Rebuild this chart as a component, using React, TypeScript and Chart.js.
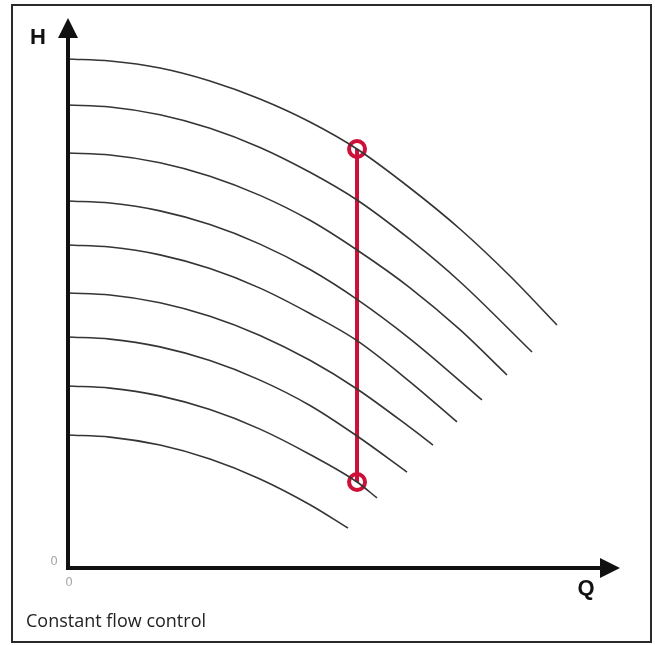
import { useEffect, useRef } from "react";
import { Chart, registerables } from "chart.js";

Chart.register(...registerables);

// Pump curves at nine speeds (Q = flow, H = head)
const curveNames = ["n1", "n2", "n3", "n4", "n5", "n6", "n7", "n8", "n9"];
const curveQ: number[][] = [
  [0, 7.61, 16.67, 25.72, 34.78, 43.84, 52.36, 61.96, 71.01, 80.07, 88.59],
  [0, 7.61, 16.67, 25.72, 34.78, 43.84, 52.36, 61.96, 71.01, 84.06],
  [0, 7.61, 16.67, 25.72, 34.78, 43.84, 52.36, 61.96, 71.01, 79.53],
  [0, 7.61, 16.67, 25.72, 34.78, 43.84, 52.36, 61.96, 75.0],
  [0, 7.61, 16.67, 25.72, 34.78, 43.84, 52.36, 61.96, 70.47],
  [0, 7.61, 16.67, 25.72, 34.78, 43.84, 52.36, 61.96, 66.12],
  [0, 7.61, 16.67, 25.72, 34.78, 43.84, 52.36, 61.41],
  [0, 7.61, 16.67, 25.72, 34.78, 43.84, 52.36, 55.98],
  [0, 7.61, 16.67, 25.72, 34.78, 43.84, 50.72],
];
const curveH: number[][] = [
  [92.55, 92.18, 90.91, 88.55, 85.27, 81.09, 76.18, 69.09, 61.64, 53.09, 44.18],
  [84.18, 83.82, 82.42, 79.96, 76.47, 71.95, 66.91, 59.73, 52.05, 39.27],
  [75.45, 75.09, 73.69, 71.24, 67.75, 63.22, 57.82, 50.95, 43.33, 35.09],
  [66.73, 66.35, 64.93, 62.44, 58.89, 54.27, 48.85, 41.67, 30.55],
  [58.73, 58.35, 56.93, 54.44, 50.89, 46.27, 41.33, 33.85, 26.55],
  [50.0, 49.64, 48.24, 45.78, 42.29, 37.76, 32.55, 25.55, 22.36],
  [42.0, 41.62, 40.2, 37.71, 34.16, 29.55, 24.0, 17.45],
  [33.09, 32.71, 31.29, 28.8, 25.25, 20.64, 15.64, 12.73],
  [24.18, 23.8, 22.35, 19.82, 16.2, 11.51, 7.27],
];

// Constant flow control line
const dutyQ = 52.36;
const dutyH = [76.18, 15.64];

const axisLabelY = "H";
const axisLabelX = "Q";
const originLabel = "0";
const caption = "Constant flow control";

const decorPlugin = {
  id: "decor",
  beforeDraw(chart: any) {
    const ctx = chart.ctx;
    ctx.save();
    ctx.fillStyle = "#ffffff";
    ctx.fillRect(0, 0, chart.width, chart.height);
    ctx.strokeStyle = "#2a2a2a";
    ctx.lineWidth = 2;
    ctx.strokeRect(12, 5, 639, 637);
    ctx.restore();
  },
  afterDatasetsDraw(chart: any) {
    const ctx = chart.ctx;
    const { left, right, top, bottom } = chart.chartArea;
    ctx.save();
    ctx.strokeStyle = "#111";
    ctx.fillStyle = "#111";
    ctx.lineWidth = 4;
    ctx.lineCap = "butt";
    // y axis
    ctx.beginPath();
    ctx.moveTo(left, bottom + 2);
    ctx.lineTo(left, top + 16);
    ctx.stroke();
    ctx.beginPath();
    ctx.moveTo(left, top);
    ctx.lineTo(left - 10, top + 20);
    ctx.lineTo(left + 10, top + 20);
    ctx.closePath();
    ctx.fill();
    // x axis
    ctx.beginPath();
    ctx.moveTo(left - 2, bottom);
    ctx.lineTo(right - 16, bottom);
    ctx.stroke();
    ctx.beginPath();
    ctx.moveTo(right, bottom);
    ctx.lineTo(right - 20, bottom - 10);
    ctx.lineTo(right - 20, bottom + 10);
    ctx.closePath();
    ctx.fill();
    // labels
    ctx.font = "bold 22px 'Liberation Sans', Arial, sans-serif";
    ctx.textAlign = "center";
    ctx.textBaseline = "middle";
    ctx.fillText(axisLabelY, left - 30, top + 20);
    ctx.fillText(axisLabelX, right - 34, bottom + 21);
    ctx.font = "12px 'DejaVu Sans', sans-serif";
    ctx.fillStyle = "#a8a8a8";
    ctx.fillText(originLabel, left - 14, bottom - 6);
    ctx.fillText(originLabel, left + 1, bottom + 15);
    ctx.font = "18px 'Open Sans', sans-serif";
    ctx.fillStyle = "#222";
    ctx.textAlign = "left";
    ctx.textBaseline = "alphabetic";
    ctx.fillText(caption, 26, 627);
    ctx.restore();
  },
};

export default function App() {
  const ref = useRef<HTMLCanvasElement | null>(null);
  useEffect(() => {
    if (!ref.current) return;
    const curveSets = curveNames.map((name, i) => ({
      label: name,
      data: curveQ[i].map((q, j) => ({ x: q, y: curveH[i][j] })),
      borderColor: "#353535",
      borderWidth: 1.6,
      pointRadius: 0,
      showLine: true,
      fill: false,
      cubicInterpolationMode: "monotone" as const,
    }));
    const dutySet = {
      label: "constant flow",
      data: dutyH.map((h) => ({ x: dutyQ, y: h })),
      borderColor: "#cc1038",
      borderWidth: 4,
      pointRadius: 8,
      pointBorderWidth: 4,
      pointBorderColor: "#cc1038",
      pointBackgroundColor: "rgba(255,255,255,0)",
      showLine: true,
      fill: false,
    };
    const chart = new Chart(ref.current, {
      type: "scatter",
      data: { datasets: [...curveSets, dutySet] as any },
      options: {
        animation: false,
        responsive: false,
        events: [],
        layout: { padding: { left: 68, right: 35, top: 18, bottom: 77 } },
        plugins: { legend: { display: false }, tooltip: { enabled: false }, title: { display: false } },
        scales: {
          x: { type: "linear", min: 0, max: 100, display: false },
          y: { type: "linear", min: 0, max: 100, display: false },
        },
      },
      plugins: [decorPlugin],
    });
    return () => chart.destroy();
  }, []);
  return (
    <div style={{ position: "fixed", left: 0, top: 0, width: 655, height: 645, background: "#fff" }}>
      <canvas ref={ref} width={655} height={645} style={{ display: "block", width: 655, height: 645 }} />
    </div>
  );
}
